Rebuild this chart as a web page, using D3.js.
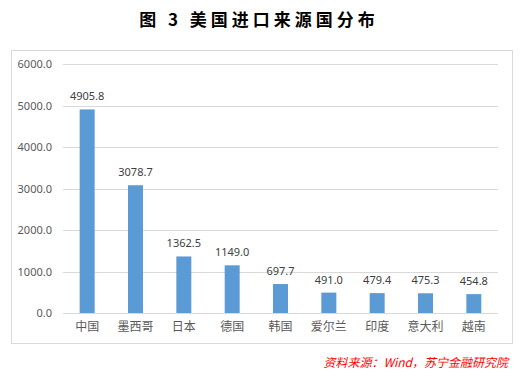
<!DOCTYPE html>
<html>
<head>
<meta charset="utf-8">
<script src="https://cdn.jsdelivr.net/npm/d3@7"></script>
<style>
  body { margin: 0; background: #fff; }
  svg text { font-family: "Noto Sans CJK SC", "Microsoft YaHei", sans-serif; }
</style>
</head>
<body>
<svg id="chart" width="530" height="377"></svg>
<script>
// data
const countries = ["中国", "墨西哥", "日本", "德国", "韩国", "爱尔兰", "印度", "意大利", "越南"];
const values = [4905.8, 3078.7, 1362.5, 1149.0, 697.7, 491.0, 479.4, 475.3, 454.8];
const yTicks = [0, 1000, 2000, 3000, 4000, 5000, 6000];

const svg = d3.select("#chart");

// title
svg.append("text")
  .attr("x", 259)
  .attr("y", 26)
  .attr("text-anchor", "middle")
  .style("font-size", "17px")
  .style("font-weight", "bold")
  .style("letter-spacing", "4px")
  .style("fill", "#000")
  .text("图 3 美国进口来源国分布");

// outer frame
svg.append("rect")
  .attr("x", 11.5).attr("y", 50.5)
  .attr("width", 501).attr("height", 293)
  .attr("fill", "#fff")
  .attr("stroke", "#d9d9d9")
  .attr("stroke-width", 1);

const plotL = 63, plotR = 498, plotT = 64, plotB = 313;

const x = d3.scaleBand()
  .domain(countries)
  .range([plotL, plotR])
  .paddingInner(0.69)
  .paddingOuter(0.345);

const y = d3.scaleLinear()
  .domain([0, 6000])
  .range([plotB, plotT]);

// gridlines
svg.append("g")
  .selectAll("line")
  .data(yTicks.slice(1))
  .enter()
  .append("line")
  .attr("x1", plotL).attr("x2", plotR)
  .attr("y1", d => Math.round(y(d)) + 0.5)
  .attr("y2", d => Math.round(y(d)) + 0.5)
  .attr("stroke", "#d9d9d9");

// y axis labels
const yAxis = svg.append("g")
  .attr("transform", `translate(${plotL},0)`)
  .call(d3.axisLeft(y).tickValues(yTicks).tickFormat(d3.format(".1f")).tickSize(0).tickPadding(11));
yAxis.select(".domain").remove();
yAxis.selectAll("text")
  .style("font-size", "11px")
  .style("fill", "#595959")
  .style("font-family", "Noto Sans, sans-serif");

// bars
svg.selectAll(".bar")
  .data(values)
  .enter()
  .append("rect")
  .attr("class", "bar")
  .attr("x", (d, i) => x(countries[i]))
  .attr("y", d => y(d))
  .attr("width", x.bandwidth())
  .attr("height", d => plotB - y(d))
  .attr("fill", "#5b9bd5");

// baseline
svg.append("line")
  .attr("x1", plotL).attr("x2", plotR)
  .attr("y1", plotB + 0.5).attr("y2", plotB + 0.5)
  .attr("stroke", "#d9d9d9");

// value labels
svg.selectAll(".val")
  .data(values)
  .enter()
  .append("text")
  .attr("class", "val")
  .attr("x", (d, i) => x(countries[i]) + x.bandwidth() / 2)
  .attr("y", d => y(d) - 9)
  .attr("text-anchor", "middle")
  .style("font-size", "11px")
  .style("fill", "#404040")
  .style("font-family", "Noto Sans, sans-serif")
  .text(d => d.toFixed(1));

// category labels
const xAxis = svg.append("g")
  .attr("transform", `translate(0,${plotB})`)
  .call(d3.axisBottom(x).tickSize(0).tickPadding(9));
xAxis.select(".domain").remove();
xAxis.selectAll("text")
  .style("font-size", "12px")
  .style("fill", "#595959")
  .style("font-family", "Noto Sans CJK SC, sans-serif");

// source note
svg.append("text")
  .attr("x", 508)
  .attr("y", 367)
  .attr("text-anchor", "end")
  .style("font-size", "12px")
  .style("font-style", "italic")
  .style("fill", "#ff0000")
  .text("资料来源：Wind，苏宁金融研究院");
</script>
</body>
</html>
